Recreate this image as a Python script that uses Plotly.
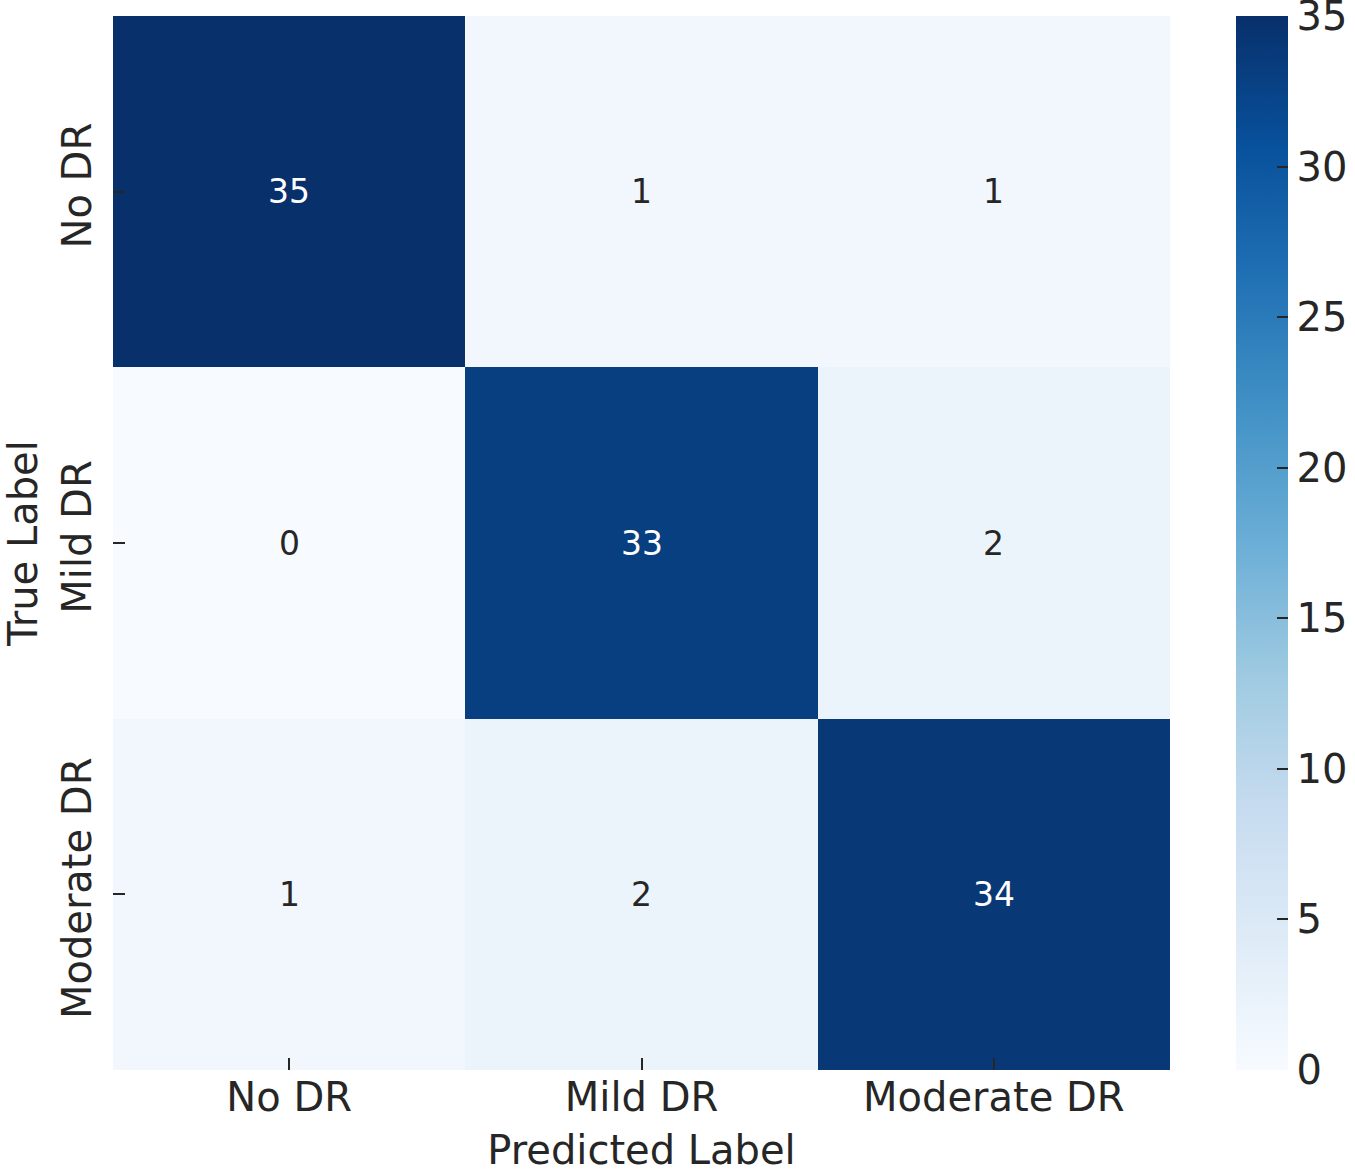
import plotly.graph_objects as go

classes = ["No DR", "Mild DR", "Moderate DR"]
z = [
    [35, 1, 1],
    [0, 33, 2],
    [1, 2, 34],
]
cbar_ticks = [0, 5, 10, 15, 20, 25, 30, 35]

FONT = "DejaVu Sans"
TXT = "#262626"

fig = go.Figure(go.Heatmap(
    z=z, x=classes, y=classes,
    colorscale="Blues", zmin=0, zmax=35,
    xgap=0, ygap=0,
    colorbar=dict(
        x=1.0625, xanchor="left", xpad=0, ypad=0,
        y=0.5, yanchor="middle", len=1.0, lenmode="fraction",
        thickness=52, outlinewidth=0,
        tickvals=cbar_ticks, ticks="inside", ticklen=11,
        tickcolor=TXT, tickwidth=2, ticklabeloverflow="allow",
        tickfont=dict(family=FONT, size=40, color=TXT),
    ),
    hoverinfo="skip",
))

annotations = []
for i, row in enumerate(z):
    for j, v in enumerate(row):
        annotations.append(dict(
            x=classes[j], y=classes[i], text=str(v), showarrow=False,
            font=dict(family=FONT, size=33, color="white" if v > 17.5 else TXT),
        ))

fig.update_layout(
    width=1355, height=1173,
    margin=dict(l=113, r=185, t=16, b=103, autoexpand=False),
    paper_bgcolor="white", plot_bgcolor="white",
    annotations=annotations,
    font=dict(family=FONT, color=TXT),
)
fig.update_xaxes(
    title=dict(text="Predicted Label", font=dict(family=FONT, size=40, color=TXT), standoff=27),
    tickfont=dict(family=FONT, size=40, color=TXT),
    ticks="inside", ticklen=12, tickwidth=2, tickcolor=TXT,
    showgrid=False, zeroline=False, automargin=False,
)
fig.update_yaxes(
    title=dict(text="True Label", font=dict(family=FONT, size=40, color=TXT), standoff=16),
    tickfont=dict(family=FONT, size=40, color=TXT), tickangle=-90,
    ticks="inside", ticklen=12, tickwidth=2, tickcolor=TXT,
    ticklabelstandoff=13,
    autorange="reversed",
    showgrid=False, zeroline=False, automargin=False,
)

fig.write_html(
    "out.html",
    config={"displayModeBar": False},
    post_script="document.body.style.margin='0';document.body.style.overflow='hidden';",
)
